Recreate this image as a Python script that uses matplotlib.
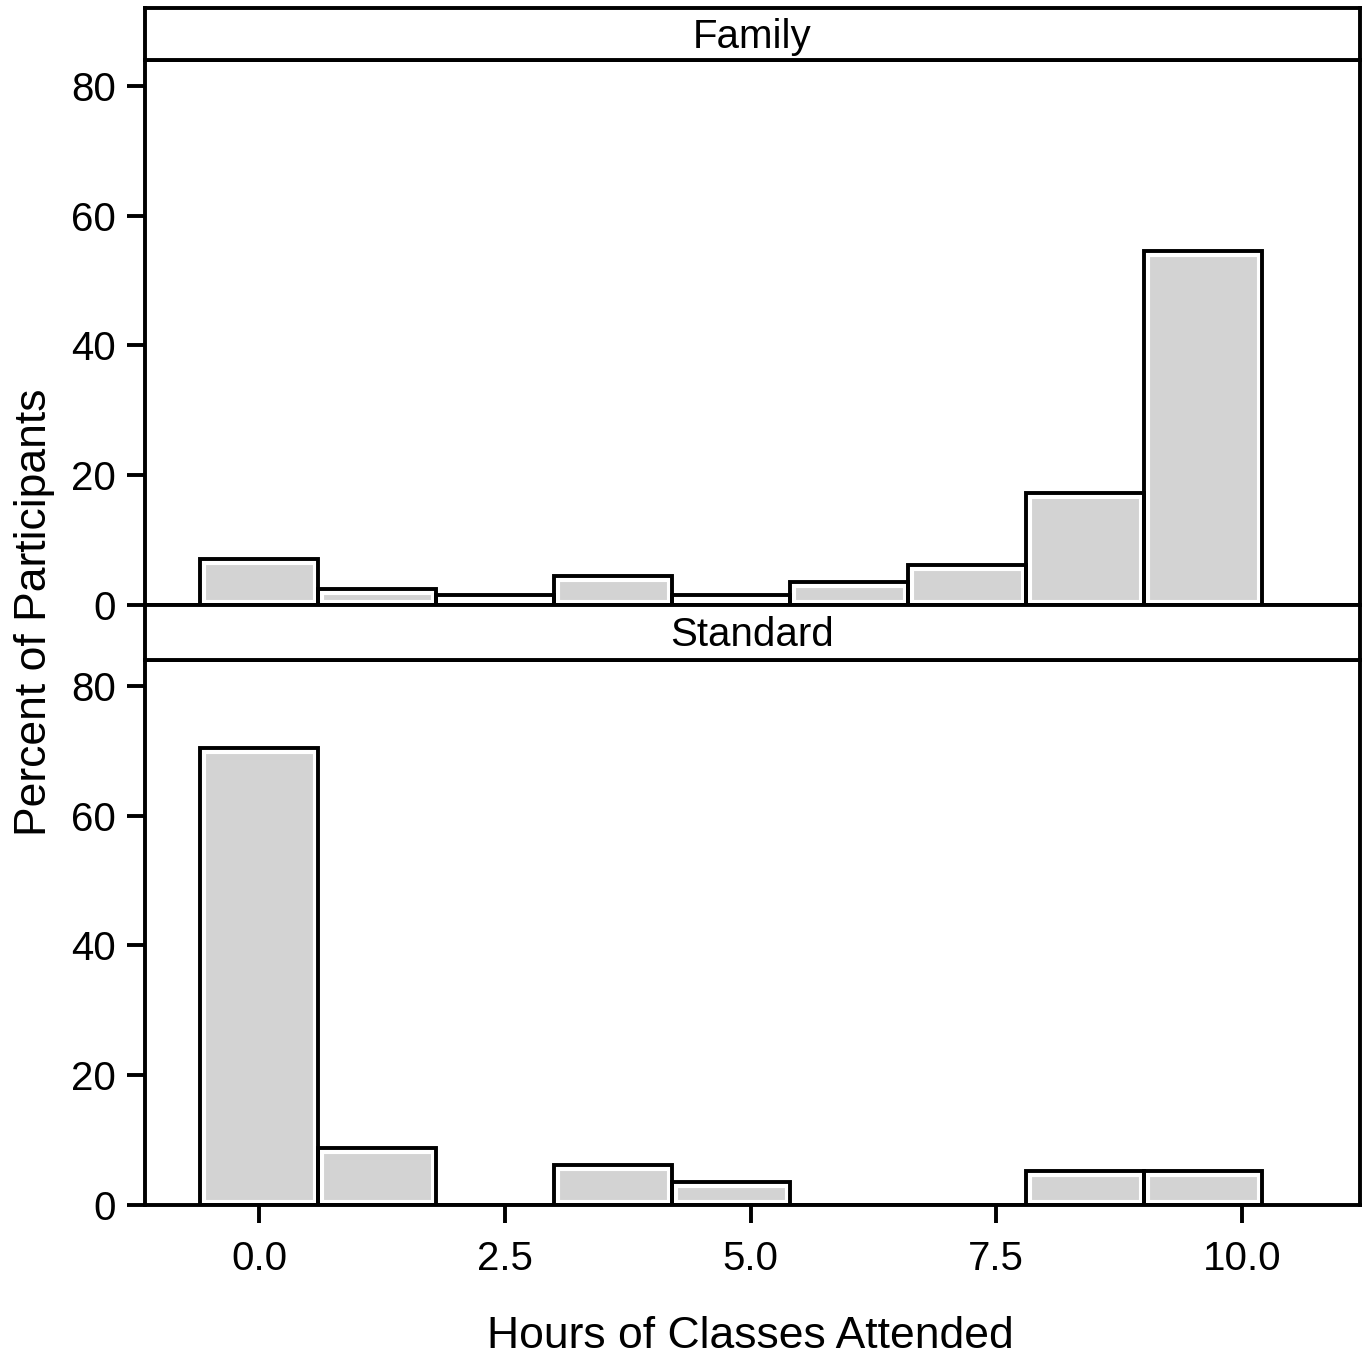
import matplotlib.pyplot as plt
import numpy as np

plt.rcParams['font.family'] = ['Liberation Sans', 'DejaVu Sans']

# histogram bins (hours), 1.2 h wide
bin_edges = [-0.6, 0.6, 1.8, 3.0, 4.2, 5.4, 6.6, 7.8, 9.0, 10.2]
groups = ['Family', 'Standard']
family_pct = [7.1, 2.5, 1.5, 4.4, 1.5, 3.6, 6.2, 17.2, 54.5]
standard_pct = [70.4, 8.8, 0.0, 6.2, 3.6, 0.0, 0.0, 5.3, 5.3]
xticks = [0.0, 2.5, 5.0, 7.5, 10.0]
yticks = [0, 20, 40, 60, 80]

W, H = 1365, 1357
fig = plt.figure(figsize=(W / 100, H / 100), dpi=100)

left, right = 145 / W, 1360 / W
# (strip top, panel top, panel bottom) in pixels from the top
rows = [(8, 60, 605), (605, 660, 1205)]
lw = 2.8
fill = '#d3d3d3'

edges = np.array(bin_edges)
widths = np.diff(edges)
for i, (name, vals, (st, pt, pb)) in enumerate(zip(groups, [family_pct, standard_pct], rows)):
    ax = fig.add_axes([left, 1 - pb / H, right - left, (pb - pt) / H])
    bars = ax.bar(edges[:-1], vals, width=widths, align='edge',
                  facecolor=fill, edgecolor='white', linewidth=8, zorder=2)
    for b in bars:
        b.set_clip_path(b)
    ax.bar(edges[:-1], vals, width=widths, align='edge', fill=False,
           edgecolor='black', linewidth=lw, zorder=3)
    ax.set_xlim(-1.16, 11.2)
    ax.set_ylim(0, 84)
    ax.set_yticks(yticks)
    ax.set_xticks(xticks)
    for s in ax.spines.values():
        s.set_linewidth(lw)
    ax.tick_params(axis='y', length=13, width=lw, pad=8, labelsize=29)
    if i == 0:
        ax.tick_params(axis='x', bottom=False, labelbottom=False)
    else:
        ax.set_xticklabels([f'{t:.1f}' for t in xticks])
        ax.tick_params(axis='x', length=13, width=lw, pad=12, labelsize=29)

    sax = fig.add_axes([left, 1 - pt / H, right - left, (pt - st) / H])
    sax.set_xticks([])
    sax.set_yticks([])
    for s in sax.spines.values():
        s.set_linewidth(lw)
    sax.text(0.5, 0.45, name, ha='center', va='center', fontsize=29,
             transform=sax.transAxes)

fig.text(35 / W, 1 - 612 / H, 'Percent of Participants', rotation=90,
         ha='center', va='center', fontsize=32)
fig.text(750 / W, 1 - 1336 / H, 'Hours of Classes Attended',
         ha='center', va='center', fontsize=32)

fig.savefig('out.png', dpi=100)
